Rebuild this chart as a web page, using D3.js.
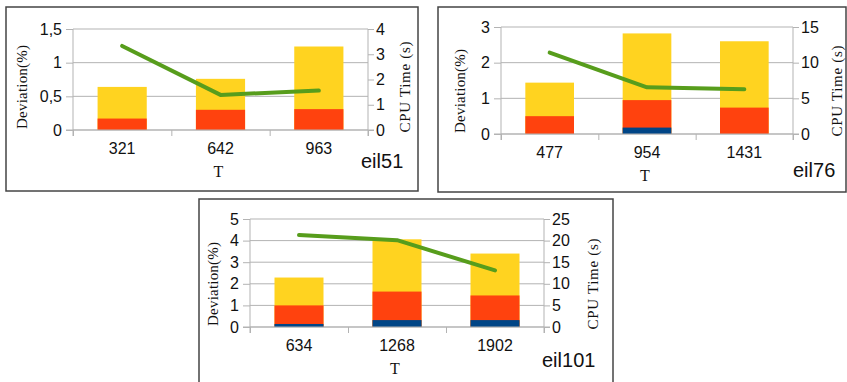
<!DOCTYPE html>
<html>
<head>
<meta charset="utf-8">
<script src="https://cdn.jsdelivr.net/npm/d3@7"></script>
<style>
  body { margin: 0; background: #fff; }
  svg { display: block; }
</style>
</head>
<body>
<div id="chart"></div>
<script>
// Values (deviation bars are drawn from 0, overlapping)
const eil51T = ["321", "642", "963"];
const eil51Max = [0.64, 0.76, 1.24];
const eil51Avg = [0.17, 0.30, 0.31];
const eil51Min = [0, 0, 0];
const eil51Cpu = [3.33, 1.39, 1.56];
const eil51DevTicks = [0, 0.5, 1, 1.5];
const eil51CpuTicks = [0, 1, 2, 3, 4];

const eil76T = ["477", "954", "1431"];
const eil76Max = [1.44, 2.82, 2.60];
const eil76Avg = [0.50, 0.95, 0.74];
const eil76Min = [0, 0.18, 0];
const eil76Cpu = [11.4, 6.55, 6.27];
const eil76DevTicks = [0, 1, 2, 3];
const eil76CpuTicks = [0, 5, 10, 15];

const eil101T = ["634", "1268", "1902"];
const eil101Max = [2.29, 4.06, 3.40];
const eil101Avg = [1.0, 1.64, 1.46];
const eil101Min = [0.14, 0.32, 0.32];
const eil101Cpu = [21.3, 20.1, 13.1];
const eil101DevTicks = [0, 1, 2, 3, 4, 5];
const eil101CpuTicks = [0, 5, 10, 15, 20, 25];

const colors = { max: "#ffd320", avg: "#ff420e", min: "#004586", line: "#579d1c" };

const svg = d3.select("#chart")
    .append("svg")
    .attr("width", 847)
    .attr("height", 382);

// Draw one panel: frame, bars, CPU line, both axes and labels
function drawPanel(p) {
  const g = svg.append("g");

  g.append("rect")
      .attr("x", p.box[0]).attr("y", p.box[1])
      .attr("width", p.box[2]).attr("height", p.box[3])
      .attr("fill", "#fff")
      .attr("stroke", "#444")
      .attr("stroke-width", 1.5);

  const x = d3.scaleBand()
      .domain(p.cats)
      .range([p.left, p.right])
      .paddingInner(0.5)
      .paddingOuter(0.25);

  const yLeft = d3.scaleLinear()
      .domain([0, d3.max(p.devTicks)])
      .range([p.bottom, p.top]);

  const yRight = d3.scaleLinear()
      .domain([0, d3.max(p.cpuTicks)])
      .range([p.bottom, p.top]);

  // Gridlines
  g.append("g")
    .selectAll("line")
    .data(p.devTicks)
    .join("line")
      .attr("x1", p.left).attr("x2", p.right)
      .attr("y1", d => yLeft(d)).attr("y2", d => yLeft(d))
      .attr("stroke", "#b3b3b3");

  // Bars, widest value at the back
  [["max", p.max], ["avg", p.avg], ["min", p.min]].forEach(([key, vals]) => {
    g.append("g")
      .selectAll("rect")
      .data(p.cats.map((c, i) => ({ c, v: vals[i] })))
      .join("rect")
        .attr("x", d => x(d.c))
        .attr("width", x.bandwidth())
        .attr("y", d => yLeft(d.v))
        .attr("height", d => yLeft(0) - yLeft(d.v))
        .attr("fill", colors[key]);
  });

  // Left axis
  const leftAxis = g.append("g")
      .attr("transform", `translate(${p.left},0)`)
      .call(d3.axisLeft(yLeft).tickValues(p.devTicks).tickSize(7).tickPadding(4)
        .tickFormat(d => String(d).replace(".", ",")));

  // Right axis
  const rightAxis = g.append("g")
      .attr("transform", `translate(${p.right},0)`)
      .call(d3.axisRight(yRight).tickValues(p.cpuTicks).tickSize(6).tickPadding(2)
        .tickFormat(d3.format("d")));

  // Bottom axis: ticks at category boundaries, labels at category centers
  const bounds = d3.scaleLinear().domain([0, p.cats.length]).range([p.left, p.right]);
  const bottomTicks = g.append("g")
      .attr("transform", `translate(0,${p.bottom})`)
      .call(d3.axisBottom(bounds).ticks(p.cats.length).tickSize(6).tickFormat(""));

  const bottomLabels = g.append("g")
      .attr("transform", `translate(0,${p.bottom})`)
      .call(d3.axisBottom(x).tickSize(0).tickPadding(13));

  [leftAxis, rightAxis, bottomTicks, bottomLabels].forEach(a => {
    a.selectAll("path.domain").attr("stroke", "#b3b3b3");
    a.selectAll(".tick line").attr("stroke", "#b3b3b3");
    a.selectAll("text")
        .attr("fill", "#111")
        .style("font-family", "'Liberation Sans', Arial, sans-serif")
        .style("font-size", "16px");
  });
  leftAxis.select("path.domain").attr("d", `M0,${p.top}V${p.bottom + 6}`);
  rightAxis.select("path.domain").attr("d", `M0,${p.top}V${p.bottom + 6}`);
  bottomTicks.select("path.domain").attr("d", `M${p.left - 7},0H${p.right + 6}`);
  bottomLabels.select("path.domain").remove();

  // CPU time line
  const line = d3.line()
      .x((d, i) => x(p.cats[i]) + x.bandwidth() / 2)
      .y(d => yRight(d));

  g.append("path")
      .datum(p.cpu)
      .attr("d", line)
      .attr("fill", "none")
      .attr("stroke", colors.line)
      .attr("stroke-width", 4)
      .attr("stroke-linejoin", "round")
      .attr("stroke-linecap", "round");

  // Axis titles
  const serif = "'Liberation Serif', 'Times New Roman', serif";
  const midY = p.bottom - 43;

  g.append("text")
      .attr("transform", `translate(${p.devX},${midY}) rotate(-90)`)
      .attr("text-anchor", "middle")
      .attr("dy", "0.35em")
      .attr("textLength", 84)
      .attr("lengthAdjust", "spacing")
      .style("font-family", serif)
      .style("font-size", "15px")
      .attr("fill", "#111")
      .text("Deviation(%)");

  g.append("text")
      .attr("transform", `translate(${p.cpuX},${midY}) rotate(-90)`)
      .attr("text-anchor", "middle")
      .attr("dy", "0.35em")
      .attr("textLength", 91)
      .attr("lengthAdjust", "spacing")
      .style("font-family", serif)
      .style("font-size", "15px")
      .attr("fill", "#111")
      .text("CPU Time (s)");

  g.append("text")
      .attr("x", (p.left + p.right) / 2 - 2)
      .attr("y", p.bottom + 47)
      .attr("text-anchor", "middle")
      .style("font-family", serif)
      .style("font-size", "16px")
      .attr("fill", "#111")
      .text("T");

  g.append("text")
      .attr("x", p.nameX)
      .attr("y", p.nameY)
      .style("font-family", "'Liberation Sans', Arial, sans-serif")
      .style("font-size", "20px")
      .attr("fill", "#111")
      .text(p.name);
}

drawPanel({
  name: "eil51", cats: eil51T, max: eil51Max, avg: eil51Avg, min: eil51Min, cpu: eil51Cpu,
  devTicks: eil51DevTicks, cpuTicks: eil51CpuTicks,
  box: [6, 7, 412, 184], left: 73, right: 368, top: 29, bottom: 130,
  devX: 22, cpuX: 405, nameX: 361, nameY: 168
});

drawPanel({
  name: "eil76", cats: eil76T, max: eil76Max, avg: eil76Avg, min: eil76Min, cpu: eil76Cpu,
  devTicks: eil76DevTicks, cpuTicks: eil76CpuTicks,
  box: [438, 7, 408, 185], left: 501, right: 793, top: 27, bottom: 134,
  devX: 460, cpuX: 837, nameX: 793, nameY: 177
});

drawPanel({
  name: "eil101", cats: eil101T, max: eil101Max, avg: eil101Avg, min: eil101Min, cpu: eil101Cpu,
  devTicks: eil101DevTicks, cpuTicks: eil101CpuTicks,
  box: [199, 199, 414, 200], left: 250, right: 544, top: 219, bottom: 327,
  devX: 213, cpuX: 593, nameX: 542, nameY: 367
});
</script>
</body>
</html>
